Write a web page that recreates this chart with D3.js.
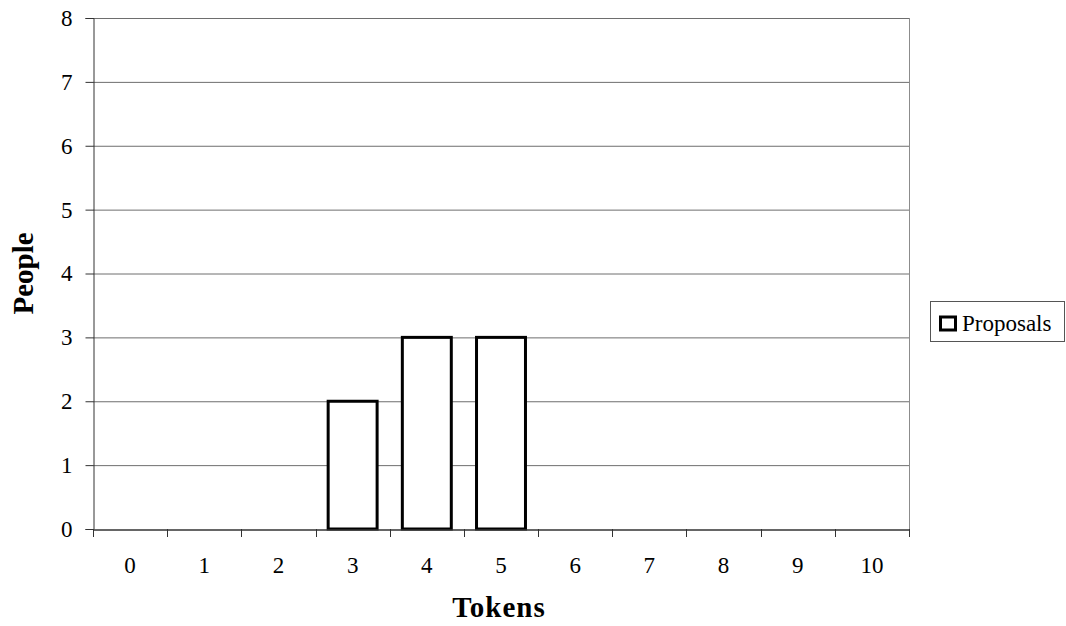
<!DOCTYPE html>
<html><head><meta charset="utf-8">
<script src="https://cdn.jsdelivr.net/npm/d3@7"></script>
<style>body{margin:0;background:#fff}svg{display:block}</style>
</head><body>
<svg id="c" width="1066" height="626"></svg>
<script>
const categories = ["0","1","2","3","4","5","6","7","8","9","10"];
const proposals = [0,0,0,2,3,3,0,0,0,0,0];
const yTicks = [0,1,2,3,4,5,6,7,8];
const seriesName = "Proposals";

const FONT = "'Liberation Serif', 'Times New Roman', Times, serif";
const svg = d3.select("#c");
const L = 93, R = 909, T = 18, B = 529;
const x = d3.scaleBand().domain(categories).range([L, R]).paddingInner(0.34).paddingOuter(0.17);
const xb = d3.scaleBand().domain(categories).range([L, R]);
const y = d3.scaleLinear().domain([0, 8]).range([B, T]);

// gridlines
svg.append("g").selectAll("line").data(yTicks.filter(d => d > 0)).join("line")
  .attr("x1", L).attr("x2", R).attr("y1", d => y(d) + 0.5).attr("y2", d => y(d) + 0.5)
  .attr("stroke", "#6e6e6e").attr("stroke-width", 1);
// right border
svg.append("line").attr("x1", R + 0.5).attr("x2", R + 0.5).attr("y1", T).attr("y2", B)
  .attr("stroke", "#8c8c8c").attr("stroke-width", 1);

// bars
svg.append("g").selectAll("rect").data(categories.map((c, i) => ({c, v: proposals[i]})).filter(d => d.v > 0)).join("rect")
  .attr("x", d => x(d.c)).attr("width", x.bandwidth())
  .attr("y", d => y(d.v)).attr("height", d => y(0) - y(d.v))
  .attr("fill", "#fff").attr("stroke", "#000").attr("stroke-width", 3);

// y axis
const yAxis = svg.append("g").attr("transform", `translate(${L + 0.5},0)`)
  .call(d3.axisLeft(y).tickValues(yTicks).tickSize(8).tickPadding(13).tickFormat(d3.format("d")));
yAxis.attr("font-family", null).attr("font-size", null);
yAxis.select(".domain").attr("stroke", "#333");
yAxis.selectAll(".tick line").attr("stroke", "#333");
yAxis.selectAll("text").style("font-family", FONT).style("font-size", "23px").attr("fill", "#000");

// x axis
const xAxis = svg.append("g").attr("transform", `translate(0,${B + 0.5})`)
  .call(d3.axisBottom(xb).tickSize(0).tickPadding(27));
xAxis.attr("font-family", null).attr("font-size", null);
xAxis.select(".domain").attr("stroke", "#333").attr("stroke-width", 1.5);
xAxis.selectAll("text").style("font-family", FONT).style("font-size", "23px").attr("fill", "#000");
svg.append("g").selectAll("line").data(categories.concat(["end"])).join("line")
  .attr("x1", (d, i) => Math.round(L + i * xb.step()) + 0.5)
  .attr("x2", (d, i) => Math.round(L + i * xb.step()) + 0.5)
  .attr("y1", B).attr("y2", B + 8).attr("stroke", "#333");

// axis titles
svg.append("text").attr("x", (L + R) / 2 - 2).attr("y", 617).attr("text-anchor", "middle")
  .style("font-family", FONT).style("font-size", "29px").style("font-weight", "bold").attr("letter-spacing", 1).text("Tokens");
svg.append("text").attr("transform", `translate(33,${(T + B) / 2}) rotate(-90)`).attr("text-anchor", "middle")
  .style("font-family", FONT).style("font-size", "29px").style("font-weight", "bold").text("People");

// legend
const lg = svg.append("g");
lg.append("rect").attr("x", 930.5).attr("y", 301.5).attr("width", 134).attr("height", 40)
  .attr("fill", "#fff").attr("stroke", "#555").attr("stroke-width", 1);
lg.append("rect").attr("x", 940.5).attr("y", 317).attr("width", 15).attr("height", 13)
  .attr("fill", "#fff").attr("stroke", "#000").attr("stroke-width", 3);
lg.append("text").attr("x", 962).attr("y", 331).style("font-family", FONT).style("font-size", "23px").text(seriesName);
</script>
</body></html>
